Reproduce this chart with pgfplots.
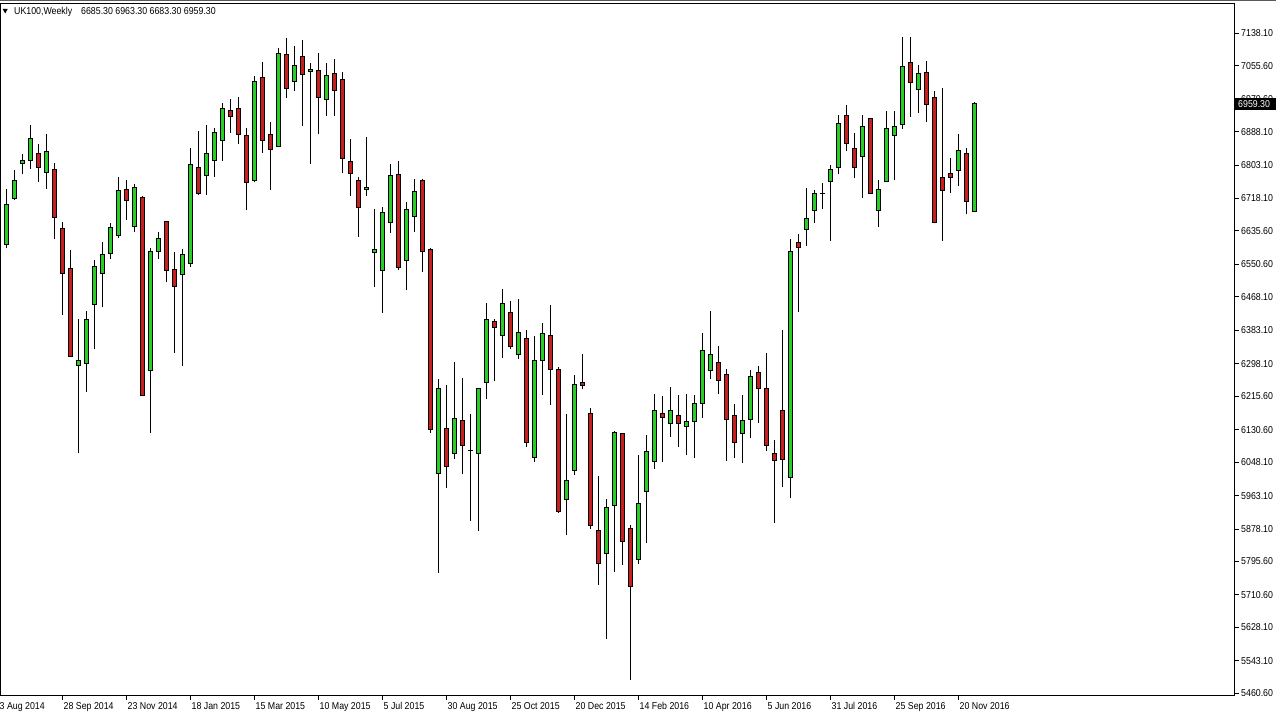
\documentclass[border=0pt]{standalone}
\usepackage{fontspec}
\setmainfont{Liberation Sans}[FakeStretch=0.88]
\usepackage{pgfplots}
\pgfplotsset{compat=1.18}
\usepackage{pgfplotstable}
\definecolor{bull}{RGB}{40,205,40}
\definecolor{bear}{RGB}{200,30,30}

% weekly UK100 candles, i = week index (i=7 -> 28 Sep 2014)
\pgfplotstableread{
i o h l c
-1 6605.0 6714.0 6600.0 6691.0
0 6601.8 6742.4 6591.6 6703.5
1 6717.7 6790.6 6714.4 6764.5
2 6807.7 6831.3 6779.7 6815.3
3 6813.5 6905.0 6794.0 6871.2
5 6784.8 6881.4 6743.1 6838.2
9 6294.2 6411.2 6070.6 6305.2
10 6299.3 6432.3 6227.1 6411.2
11 6449.3 6561.9 6334.9 6546.6
12 6528.1 6606.9 6441.7 6576.4
13 6578.9 6655.2 6565.2 6645.0
14 6623.6 6772.8 6618.5 6739.0
16 6647.5 6754.3 6633.0 6746.7
18 6281.5 6591.6 6121.4 6584.0
19 6584.0 6632.3 6565.2 6617.0
22 6525.5 6589.8 6293.2 6576.4
23 6553.5 6845.8 6544.8 6805.1
25 6776.1 6904.2 6727.8 6833.1
26 6815.3 6897.0 6773.6 6886.4
27 6866.1 6960.1 6814.2 6947.4
31 6763.4 7030.3 6759.4 7016.8
34 6850.9 7099.9 6849.9 7087.2
36 7016.1 7105.8 6992.2 7056.7
38 7041.5 7061.8 6806.6 7046.6
40 6970.3 7062.6 6927.9 7031.3
45 6740.5 6873.7 6724.5 6746.7
46 6581.4 6690.7 6494.0 6587.3
47 6535.7 6695.8 6427.9 6683.1
48 6657.7 6805.9 6629.7 6775.4
50 6561.1 6710.0 6485.6 6690.7
51 6671.9 6767.0 6633.8 6734.7
54 6019.7 6258.6 5767.1 6235.8
56 6070.6 6302.6 6056.1 6159.5
58 6078.9 6170.4 5899.2 6078.9
59 6070.6 6236.5 5873.8 6234.7
60 6250.0 6453.3 6209.3 6409.4
62 6370.5 6488.2 6313.5 6451.8
64 6322.9 6462.7 6311.0 6378.1
66 6061.1 6368.7 6049.2 6306.9
67 6305.2 6402.5 6219.5 6373.8
70 5953.6 6170.4 5862.9 6001.9
71 6027.3 6268.8 6016.2 6246.7
75 5816.4 5953.6 5599.3 5933.3
76 5938.4 6128.0 5768.8 6122.9
79 5801.1 6066.2 5789.2 5943.5
80 5974.0 6117.1 5843.3 6075.6
81 6050.2 6221.3 6031.4 6179.8
83 6146.8 6239.1 6112.7 6180.6
85 6138.2 6221.3 6066.2 6152.6
86 6151.9 6218.7 6059.4 6197.6
87 6197.6 6377.1 6161.0 6330.6
88 6281.5 6433.0 6260.2 6322.9
92 6121.4 6218.7 6046.7 6155.2
93 6157.0 6282.3 6108.7 6264.5
98 6009.5 6614.5 5956.2 6584.7
100 6639.9 6744.1 6598.2 6666.1
101 6687.2 6739.8 6656.7 6731.4
102 6730.4 6757.6 6690.7 6730.4
103 6760.9 6803.3 6610.1 6792.4
104 6797.5 6930.4 6779.7 6909.3
107 6825.4 6930.4 6720.2 6901.7
109 6687.2 6765.2 6645.0 6741.6
110 6760.9 6940.6 6759.5 6896.6
111 6878.8 6940.6 6765.2 6901.7
112 6906.8 7129.4 6894.8 7054.9
114 6995.7 7057.5 6934.7 7036.4
119 6789.8 6882.1 6750.7 6838.9
121 6685.3 6963.3 6683.3 6959.3
}\updata

\pgfplotstableread{
i o h l c
4 6831.3 6856.0 6760.9 6797.5
6 6792.4 6807.7 6614.5 6670.4
7 6642.4 6657.7 6422.8 6528.1
8 6540.8 6587.3 6314.6 6316.1
15 6741.6 6764.5 6663.5 6713.6
17 6721.2 6724.5 6216.9 6218.7
20 6659.2 6661.0 6504.7 6535.2
21 6536.5 6582.2 6324.7 6494.0
24 6795.7 6889.7 6727.8 6730.4
28 6940.6 6970.3 6885.4 6926.1
29 6947.4 6975.4 6857.5 6881.4
30 6878.8 6896.6 6689.7 6759.4
32 7026.2 7064.4 6834.6 6866.1
33 6881.4 6912.6 6740.5 6843.2
35 7082.9 7125.4 6974.4 6997.3
37 7079.6 7120.3 6903.2 7033.9
39 7044.0 7087.2 6881.4 6974.4
41 7034.6 7072.0 6927.9 6992.2
42 7019.4 7039.0 6782.2 6820.3
43 6812.7 6868.6 6724.5 6782.2
44 6764.5 6772.1 6621.1 6694.8
49 6780.4 6813.5 6537.2 6542.3
52 6764.5 6767.7 6532.1 6583.0
53 6587.3 6591.6 6121.4 6131.5
55 6134.1 6244.1 5983.1 6036.5
57 6155.2 6262.7 6017.2 6089.9
61 6406.8 6411.2 6255.1 6390.8
63 6428.9 6457.6 6334.9 6342.5
65 6362.8 6383.9 6087.3 6098.5
68 6370.5 6447.5 6193.3 6284.0
69 6284.0 6289.1 5918.0 5923.1
72 6251.0 6323.7 6234.7 6242.4
73 6172.2 6185.7 5877.4 5887.5
74 5875.6 6012.9 5736.6 5789.9
77 6121.4 6122.0 5786.6 5846.9
78 5880.7 5887.5 5494.3 5732.5
82 6172.2 6216.2 6049.2 6161.5
84 6167.9 6218.7 6087.3 6146.8
89 6302.6 6344.0 6222.0 6256.1
90 6269.6 6284.8 6051.0 6157.0
91 6165.4 6195.9 6059.4 6097.5
94 6277.2 6292.4 6148.3 6234.7
95 6235.8 6325.5 6077.2 6089.9
96 6068.8 6104.4 5894.2 6052.8
97 6178.1 6383.9 5984.1 6055.3
99 6605.1 6627.9 6430.5 6594.1
105 6927.9 6955.8 6839.7 6858.5
106 6844.0 6883.9 6769.5 6797.5
108 6922.0 6923.0 6730.0 6731.4
113 7062.6 7129.4 6926.1 7013.5
115 7037.2 7067.7 6913.4 6957.6
116 6975.4 6991.4 6655.2 6656.7
117 6772.8 6998.3 6610.9 6738.0
118 6782.2 6820.3 6731.4 6771.0
120 6833.1 6845.8 6678.0 6710.0
}\downdata

\pgfplotsset{
  wick/.style={draw=none, mark=none, forget plot,
    error bars/.cd, y dir=plus, y explicit, error mark=none,
    error bar style={draw=black, line width=1pt}},
  bodyline/.style={draw=none, mark=none, forget plot,
    error bars/.cd, y dir=plus, y explicit, error mark=none,
    error bar style={draw=black, line width=5pt}},
  bodyfill/.style={draw=none, mark=none, forget plot,
    error bars/.cd, y dir=plus, y explicit, error mark=none,
    error bar style={draw=#1, line width=3pt}},
}

\begin{document}
\begin{tikzpicture}
\useasboundingbox (0,0) rectangle (1276pt,717pt);
\fill[white] (0,0) rectangle (1276pt,717pt);
\begin{axis}[
  at={(0pt,21.5pt)}, anchor=south west,
  scale only axis, width=1234.5pt, height=692pt,
  xmin=-0.75, xmax=153.5625, ymin=5455.0, ymax=7213.8,
  axis line style={line width=1pt, black},
  tick align=outside, major tick length=4pt,
  tick style={black, line width=1pt},
  xtick pos=left, ytick pos=right, yticklabel pos=right,
  xtick={7,15,...,119},
  xticklabels={28 Sep 2014,23 Nov 2014,18 Jan 2015,15 Mar 2015,10 May 2015,5 Jul 2015,30 Aug 2015,25 Oct 2015,20 Dec 2015,14 Feb 2016,10 Apr 2016,5 Jun 2016,31 Jul 2016,25 Sep 2016,20 Nov 2016},
  ytick={7138.1,7055.6,6970.6,6888.1,6803.1,6718.1,6635.6,6550.6,6468.1,6383.1,6298.1,6215.6,6130.6,6048.1,5963.1,5878.1,5795.6,5710.6,5628.1,5543.1,5460.6},
  yticklabels={7138.10,7055.60,6970.60,6888.10,6803.10,6718.10,6635.60,6550.60,6468.10,6383.10,6298.10,6215.60,6130.60,6048.10,5963.10,5878.10,5795.60,5710.60,5628.10,5543.10,5460.60},
  tick label style={font=\fontsize{10}{12}\selectfont},
  xticklabel style={anchor=base west, inner sep=0pt, xshift=1.5pt, yshift=-9.5pt},
  yticklabel style={anchor=west, inner sep=0pt, xshift=2.5pt},
]
\addplot[wick] table[x=i, y=l, y error expr={\thisrow{h}-\thisrow{l}}] {\updata};
\addplot[wick] table[x=i, y=l, y error expr={\thisrow{h}-\thisrow{l}}] {\downdata};
\addplot[bodyline] table[x=i, y expr={min(\thisrow{o},\thisrow{c})-1.27}, y error expr={abs(\thisrow{c}-\thisrow{o})+2.54}] {\updata};
\addplot[bodyline] table[x=i, y expr={min(\thisrow{o},\thisrow{c})-1.27}, y error expr={abs(\thisrow{c}-\thisrow{o})+2.54}] {\downdata};
\addplot[bodyfill=bull] table[x=i, y expr={min(\thisrow{o},\thisrow{c})+1.27}, y error expr={max(abs(\thisrow{c}-\thisrow{o})-2.54,0)}] {\updata};
\addplot[bodyfill=bear] table[x=i, y expr={min(\thisrow{o},\thisrow{c})+1.27}, y error expr={max(abs(\thisrow{c}-\thisrow{o})-2.54,0)}] {\downdata};
\end{axis}
% window top border
\fill[black!65] (0,715.5pt) rectangle (1276pt,717pt);
% title
\fill[black] (2.7pt,708pt) -- (7.7pt,708pt) -- (5.2pt,703.5pt) -- cycle;
\node[anchor=base west, inner sep=0pt, font=\fontsize{10}{12}\selectfont] at (14pt,702pt) {UK100,Weekly};
\node[anchor=base west, inner sep=0pt, font=\fontsize{10}{12}\selectfont] at (81pt,702pt) {6685.30 6963.30 6683.30 6959.30};
% first, cut-off date label
\node[anchor=base west, inner sep=0pt, font=\fontsize{10}{12}\selectfont] at (-0.5pt,8pt) {3 Aug 2014};
% current price marker
\fill[black] (1235pt,606.5pt) rectangle (1276pt,619pt);
\node[anchor=west, inner sep=0pt, text=white, font=\fontsize{10}{12}\selectfont] at (1238pt,613pt) {6959.30};
\end{tikzpicture}
\end{document}
